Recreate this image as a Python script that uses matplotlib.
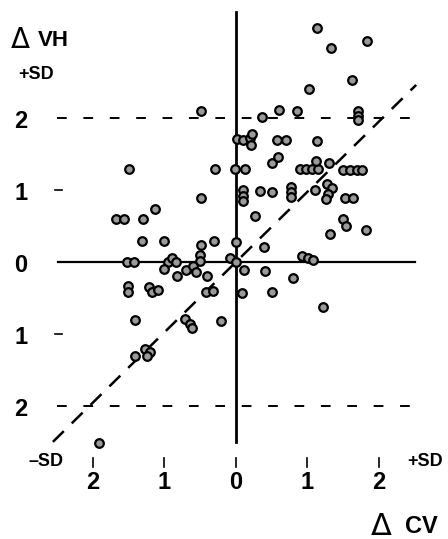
import matplotlib
matplotlib.use("Agg")
import matplotlib.pyplot as plt

plt.rcParams['lines.scale_dashes'] = False

# change in CV (x) and change in VH (y), in SD units
cv = [1.13, 1.33, 1.83, 1.62, 1.02, 0.36, 0.60, 0.85, 1.71, 1.71, 1.71, -0.49,
      0.01, 0.10, 0.20, 0.22, 0.21, 0.57, 0.70, 1.13, 0.50, 0.59,
      -0.01, 0.13, 0.90, 0.98, 1.06, 1.15, 1.12, 1.30, 1.50, 1.59, 1.69, 1.76,
      0.10, 0.10, 0.10, 0.34, 0.50, 0.77, 0.77, 0.77, 1.10, 1.27, 1.34, 1.29, 1.26,
      1.52, 1.64, 0.27, 1.50, 1.54, 1.31, 1.82, 0.00, 0.39, 0.92, 1.01, 1.08,
      -1.50, -0.29, -0.49, -1.13, -1.68, -1.57, -1.30, -1.31, -1.01, -0.49, -0.31,
      -1.52, -1.43, -0.95, -0.90, -0.84, -0.50, -0.50, -0.08, 0.00,
      -1.01, -0.83, -0.70, -0.60, -0.56, -0.41, -1.51, -1.51, -1.22, -1.17, -1.09,
      -0.42, -0.32, -1.41, -0.71, -0.64, -0.62, -0.21, -1.27, -1.20, -1.24, -1.41,
      -1.92, 0.11, 0.41, 0.80, 0.08, 0.50, 1.22]
vh = [3.25, 2.97, 3.07, 2.53, 2.40, 2.01, 2.11, 2.10, 2.10, 2.03, 1.97, 2.10,
      1.71, 1.69, 1.72, 1.78, 1.63, 1.69, 1.69, 1.68, 1.38, 1.46,
      1.29, 1.29, 1.29, 1.29, 1.29, 1.29, 1.40, 1.38, 1.28, 1.28, 1.28, 1.28,
      1.00, 0.92, 0.85, 0.99, 0.97, 1.04, 0.97, 0.90, 1.00, 1.08, 1.03, 0.94, 0.88,
      0.89, 0.89, 0.64, 0.60, 0.50, 0.39, 0.44, 0.28, 0.21, 0.08, 0.06, 0.03,
      1.29, 1.29, 0.89, 0.74, 0.60, 0.60, 0.60, 0.29, 0.29, 0.24, 0.29,
      0.00, 0.00, 0.00, 0.06, 0.00, 0.10, 0.01, 0.06, 0.00,
      -0.10, -0.19, -0.11, -0.06, -0.14, -0.19, -0.33, -0.42, -0.35, -0.42, -0.39,
      -0.42, -0.40, -0.81, -0.79, -0.86, -0.92, -0.82, -1.21, -1.25, -1.31, -1.31,
      -2.51, -0.11, -0.13, -0.22, -0.43, -0.42, -0.63]

x_ticks = [-2, -1, 0, 1, 2]
x_labels = ['2', '1', '0', '1', '2']
y_ticks = [2, 1, 0, -1, -2]
y_labels = ['2', '1', '0', '1', '2']

fig = plt.figure(figsize=(4.48, 5.39), dpi=100)
ax = fig.add_axes([0, 0, 1, 1])
ax.set_xlim(-3.30, 2.965)
ax.set_ylim(-3.85, 3.64)
ax.axis('off')

# axes through zero
ax.plot([-2.49, 2.5], [0, 0], color='black', lw=1.6)
ax.plot([0, 0], [-2.5, 3.47], color='black', lw=2.0)

# +/- 2 SD dashed lines and identity line
for yv in (2, -2):
    ax.plot([-2.5, 2.5], [yv, yv], color='black', lw=1.4, dashes=(7, 12))
ax.plot([-2.56, 2.52], [-2.5, 2.46], color='black', lw=1.8, dashes=(11, 8))

# small y ticks at +/-1
for yv in (1, -1):
    ax.plot([-2.53, -2.43], [yv, yv], color='black', lw=1.2)

ax.plot(cv, vh, 'o', ms=6.2, mfc='#9a9a9a', mec='black', mew=1.6, zorder=5)

bold = dict(fontweight='bold', family='Liberation Sans', color='black')

for t, lab in zip(x_ticks, x_labels):
    ax.plot([t, t], [-2.72, -2.85], color='black', lw=1.2)
    ax.text(t, -3.07, lab, ha='center', va='center', fontsize=17, **bold)
for t, lab in zip(y_ticks, y_labels):
    ax.text(-3.01, t - 0.05, lab, ha='center', va='center', fontsize=17, **bold)

ax.text(-2.66, -2.78, '–SD', ha='center', va='center', fontsize=13, **bold)
ax.text(2.64, -2.78, '+SD', ha='center', va='center', fontsize=13, **bold)
ax.text(-2.80, 2.60, '+SD', ha='center', va='center', fontsize=13, **bold)

ax.text(-3.02, 3.08, 'Δ', ha='center', va='center', fontsize=20, family='DejaVu Sans')
ax.text(-2.56, 3.08, 'VH', ha='center', va='center', fontsize=16, **bold)
ax.text(2.03, -3.67, 'Δ', ha='center', va='center', fontsize=22, family='DejaVu Sans')
ax.text(2.59, -3.67, 'CV', ha='center', va='center', fontsize=17, **bold)

fig.savefig('out.png', dpi=100, facecolor='white')
